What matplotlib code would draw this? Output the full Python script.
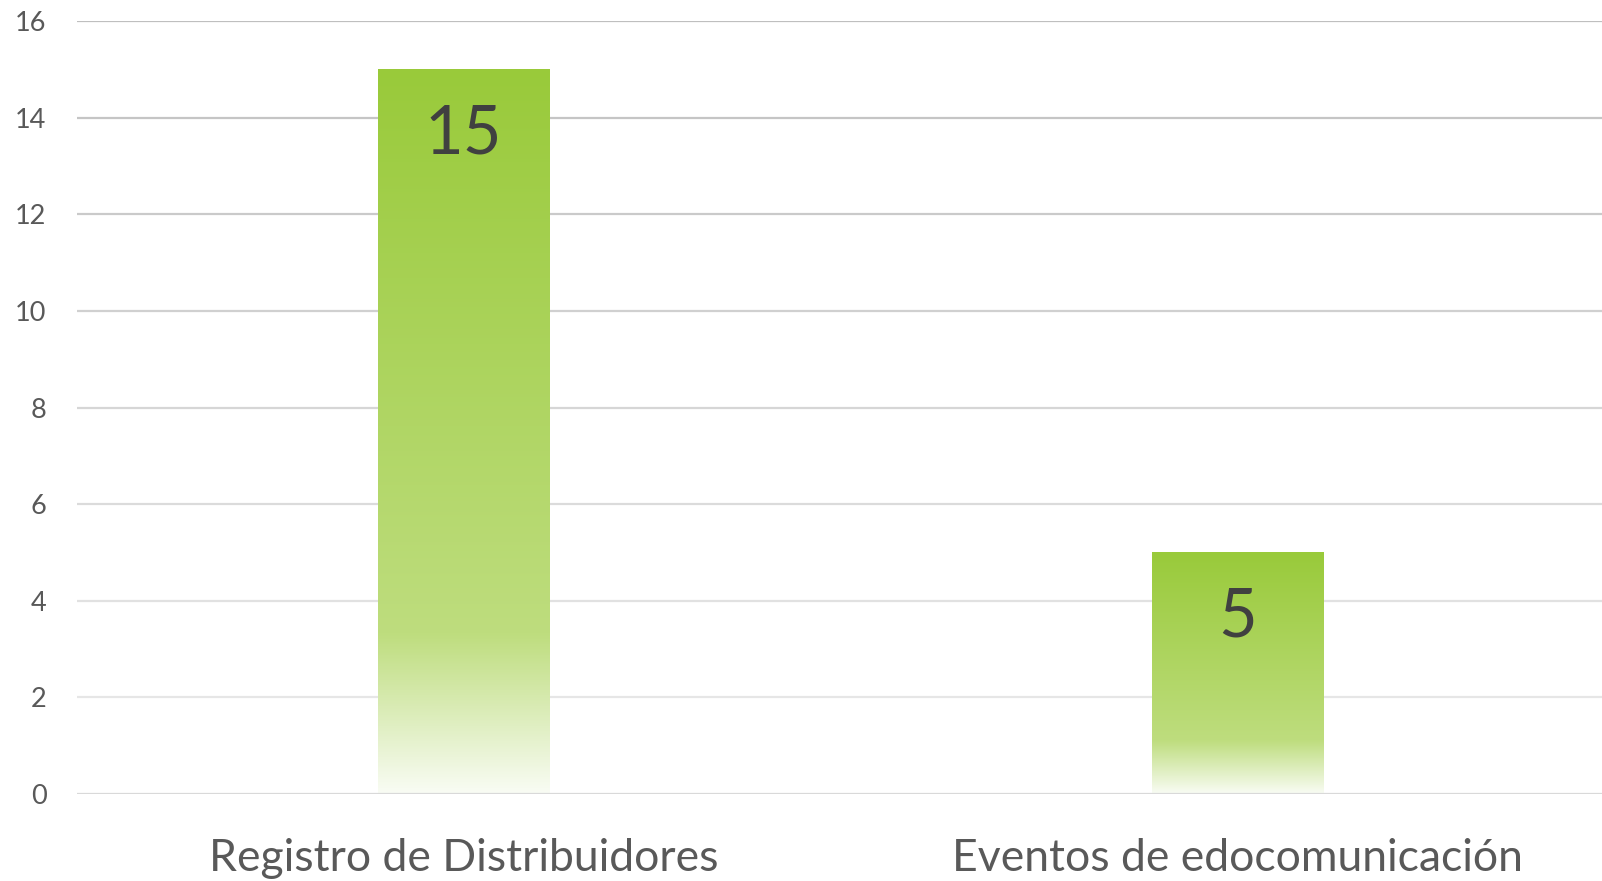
import numpy as np
import matplotlib
matplotlib.use("Agg")
import matplotlib.pyplot as plt
from matplotlib.colors import LinearSegmentedColormap, to_rgb

categories = ["Registro de Distribuidores", "Eventos de edocomunicación"]
values = [15, 5]
yticks = [0, 2, 4, 6, 8, 10, 12, 14, 16]

plt.rcParams['font.family'] = ['Lato', 'DejaVu Sans']

fig = plt.figure(figsize=(16.02, 8.81), dpi=100)
ax = fig.add_axes([77/1602, 1-794/881, (1602-77)/1602, (794-21)/881])

cmap = LinearSegmentedColormap.from_list(
    "g", [(0.0, "#f9fcf4"), (0.22, "#bedd7e"), (1.0, "#99ca3a")])

width = 0.221
bars = ax.bar(range(len(values)), values, width=width, color="none", zorder=3)
grad = np.linspace(0, 1, 256).reshape(-1, 1)
for b in bars:
    x0, y0 = b.get_x(), b.get_y()
    w, h = b.get_width(), b.get_height()
    im = ax.imshow(grad, cmap=cmap, origin="lower", aspect="auto",
                   extent=[x0, x0 + w, y0, y0 + h], zorder=3)
    im.set_clip_path(b)

for i, v in enumerate(values):
    ax.text(i, v - 0.70, str(v), ha="center", va="top", fontsize=48,
            color="#404040", zorder=4)

ax.set_xlim(-0.4987, 1.47)
ax.set_ylim(0, 16)
ax.set_yticks(yticks)
ax.set_yticklabels([str(t) for t in yticks], fontsize=19.5, color="#595959")
ax.set_xticks(range(len(categories)))
ax.set_xticklabels(categories, fontsize=32, color="#595959")
ax.tick_params(axis="both", length=0)
ax.tick_params(axis="y", pad=22)
ax.tick_params(axis="x", pad=32)

top = np.array(to_rgb("#bfbfbf"))
bot = np.array(to_rgb("#ececec"))
for t in yticks:
    f = t / 16
    c = bot + (top - bot) * f
    if t == 0:
        c = to_rgb("#d9d9d9")
    ax.axhline(t, color=c, lw=1.6, zorder=1 if t else 5)

for s in ax.spines.values():
    s.set_visible(False)
ax.set_facecolor("white")

fig.savefig("out.png", dpi=100, facecolor="white")
